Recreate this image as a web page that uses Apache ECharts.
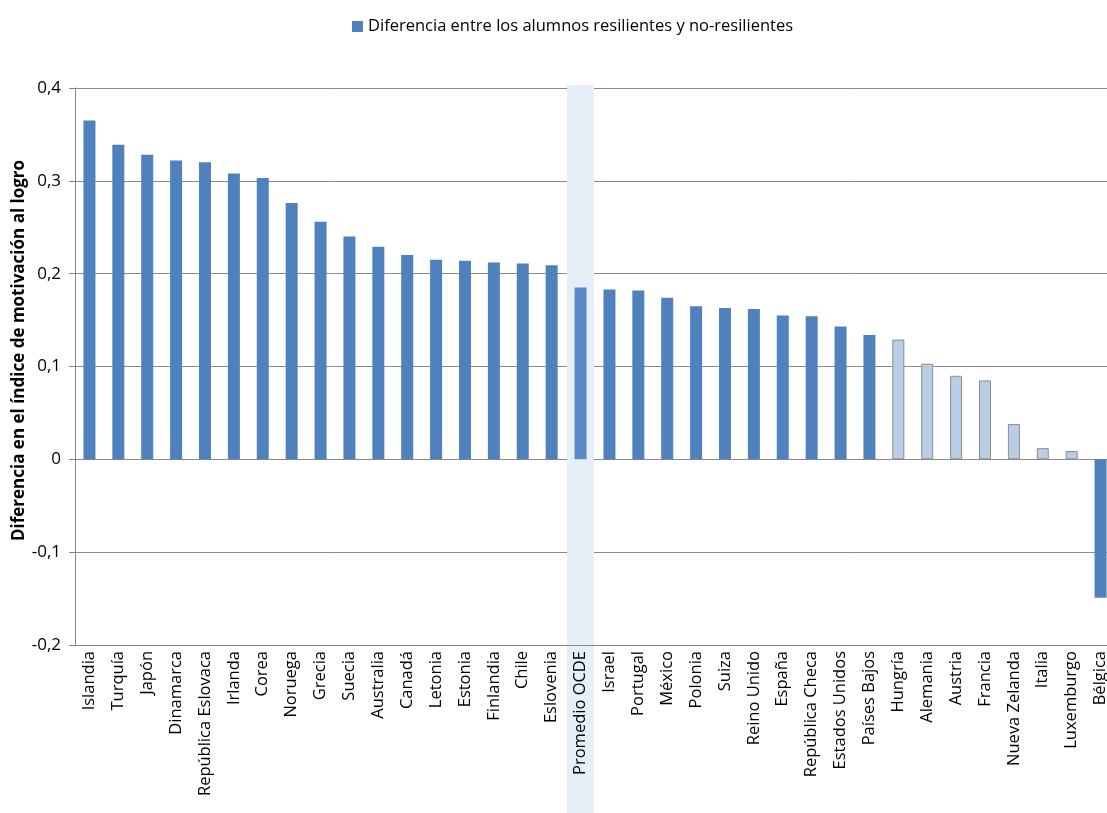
<!DOCTYPE html>
<html>
<head>
<meta charset="utf-8">
<script src="https://cdn.jsdelivr.net/npm/echarts@6/dist/echarts.min.js"></script>
<style>html,body{margin:0;padding:0;background:#fff}#c{width:1107px;height:813px}</style>
</head>
<body>
<div id="c"></div>
<script>
var categories = ["Islandia","Turquía","Japón","Dinamarca","República Eslovaca","Irlanda","Corea","Noruega","Grecia","Suecia","Australia","Canadá","Letonia","Estonia","Finlandia","Chile","Eslovenia","Promedio OCDE","Israel","Portugal","México","Polonia","Suiza","Reino Unido","España","República Checa","Estados Unidos","Países Bajos","Hungría","Alemania","Austria","Francia","Nueva Zelanda","Italia","Luxemburgo","Bélgica"];
var values = [0.365,0.339,0.328,0.322,0.320,0.308,0.303,0.276,0.256,0.240,0.229,0.220,0.215,0.214,0.212,0.211,0.209,0.185,0.183,0.182,0.174,0.165,0.163,0.162,0.155,0.154,0.143,0.134,0.129,0.103,0.090,0.085,0.038,0.012,0.009,-0.149];
var notSignificant = ["Hungría","Alemania","Austria","Francia","Nueva Zelanda","Italia","Luxemburgo"];
var highlighted = "Promedio OCDE";
var yTicks = [-0.2,-0.1,0,0.1,0.2,0.3,0.4];
var seriesName = "Diferencia entre los alumnos resilientes y no-resilientes";
var yAxisTitle = "Diferencia en el índice de motivación al logro";

var FONT = "'Open Sans', 'Noto Sans', sans-serif";
var barData = categories.map(function (c, i) {
  var style;
  if (notSignificant.indexOf(c) >= 0) style = {color: '#b9cde5', borderColor: '#8c8c8c', borderWidth: 1};
  else if (c === highlighted) style = {color: '#5b8bc7'};
  else style = {color: '#4f81bd'};
  return {value: values[i], itemStyle: style};
});
var hiIdx = categories.indexOf(highlighted);

var chart = echarts.init(document.getElementById('c'));
chart.setOption({
  animation: false,
  backgroundColor: '#ffffff',
  legend: {
    top: 13, left: 347,
    itemWidth: 11, itemHeight: 11, itemGap: 5,
    textStyle: {fontFamily: FONT, fontSize: 16.5, color: '#000'},
    data: [{name: seriesName, icon: 'rect'}]
  },
  grid: {left: 75, top: 88, height: 557, width: 1040, containLabel: false, outerBoundsMode: 'none'},
  xAxis: {
    type: 'category', data: categories,
    axisLine: {onZero: false, lineStyle: {color: '#868686', width: 1}},
    axisTick: {show: false},
    axisLabel: {rotate: 90, interval: 0, margin: 6, fontFamily: FONT, fontSize: 16.5, color: '#000'}
  },
  yAxis: {
    type: 'value', min: yTicks[0], max: yTicks[yTicks.length - 1], interval: 0.1,
    name: yAxisTitle, nameLocation: 'middle', nameGap: 47, nameMoveOverlap: false,
    nameTextStyle: {fontFamily: FONT, fontSize: 17, fontWeight: 'bold', color: '#000', padding: [0, 0, 0, 32]},
    axisLine: {show: true, lineStyle: {color: '#868686'}},
    axisTick: {show: true, length: 6, lineStyle: {color: '#868686'}},
    splitLine: {lineStyle: {color: '#8a8a8a', width: 1}},
    axisLabel: {margin: 14, fontFamily: FONT, fontSize: 17, color: '#000',
      formatter: function (v) { return String(Math.round(v * 10) / 10).replace('.', ','); }}
  },
  series: [
    {
      type: 'custom', silent: true, z: 0,
      renderItem: function (params, api) {
        var top = api.coord([api.value(0), yTicks[yTicks.length - 1]]);
        var w = api.size([1, 0])[0];
        return {
          type: 'rect', z2: 0,
          shape: {x: top[0] - w / 2 + 1, y: top[1] - 3, width: w - 2, height: api.getHeight() - top[1] + 3},
          style: {fill: '#e6eef8'}
        };
      },
      clip: false,
      data: [[hiIdx]]
    },
    {
      name: seriesName, type: 'bar', barWidth: 12, z: 2,
      itemStyle: {color: '#4f81bd'},
      data: barData
    }
  ]
});
</script>
</body>
</html>
